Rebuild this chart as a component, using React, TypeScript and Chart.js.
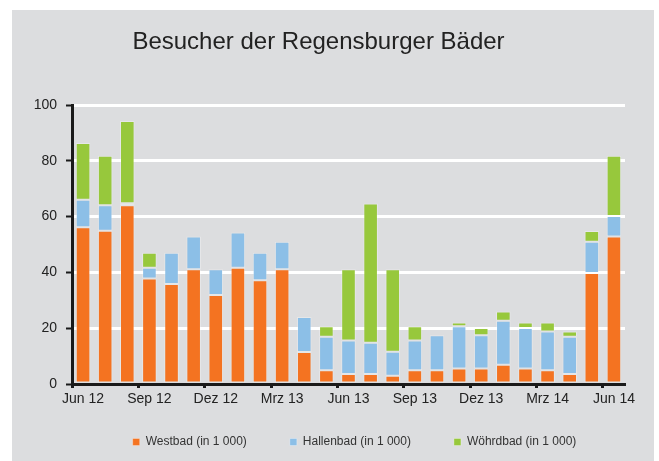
import React, { useEffect, useRef } from "react";
import { Chart, registerables } from "chart.js";

Chart.register(...registerables);

const categories = [
  "Jun 12", "Jul 12", "Aug 12", "Sep 12", "Okt 12", "Nov 12", "Dez 12",
  "Jan 13", "Feb 13", "Mrz 13", "Apr 13", "Mai 13", "Jun 13", "Jul 13",
  "Aug 13", "Sep 13", "Okt 13", "Nov 13", "Dez 13", "Jan 14", "Feb 14",
  "Mrz 14", "Apr 14", "Mai 14", "Jun 14",
];

const westbad = [
  56.2, 54.9, 64.1, 37.8, 35.8, 41.1, 31.9, 41.7, 37.2, 41.1, 11.5, 4.9, 3.6,
  3.6, 3.0, 4.9, 4.9, 5.6, 5.6, 6.9, 5.6, 4.9, 3.6, 39.8, 52.9,
];
const hallenbad = [
  9.8, 9.2, 0.7, 3.9, 11.2, 11.8, 9.2, 12.6, 9.8, 9.9, 12.5, 12.0, 12.0,
  11.2, 8.6, 10.7, 12.6, 15.1, 11.9, 15.8, 14.5, 13.9, 13.3, 11.2, 7.3,
];
const woehrdbad = [
  20.4, 17.7, 29.5, 5.3, 0, 0, 0, 0, 0, 0, 0, 3.8, 25.5,
  49.9, 29.5, 5.1, 0, 1.3, 2.6, 3.3, 1.9, 3.2, 1.9, 3.8, 21.6,
];

const seriesNames = ["Westbad (in 1 000)", "Hallenbad (in 1 000)", "Wöhrdbad (in 1 000)"];
const yTicks = [0, 20, 40, 60, 80, 100];

const shiftLegend = {
  id: "shiftLegend",
  afterLayout(chart: any) {
    const l = chart.legend;
    if (l) {
      l.left += 36;
      l.right += 36;
      l.top -= 21;
      l.height = 66;
      l.bottom = l.top + 66;
    }
  },
};

export default function App() {
  const ref = useRef<HTMLCanvasElement | null>(null);

  useEffect(() => {
    if (!ref.current) return;
    Chart.defaults.font.family = "'Liberation Sans', Arial, sans-serif";
    const mk = (label: string, data: number[], color: string) => ({
      label,
      data: data.map((v) => (v ? v : null)),
      backgroundColor: color,
      borderColor: "rgba(255,255,255,0.3)",
      borderWidth: 1,
      borderSkipped: false as any,
      categoryPercentage: 1,
      barPercentage: 0.66,
    });
    const chart = new Chart(ref.current, {
      type: "bar",
      data: {
        labels: categories,
        datasets: [
          mk(seriesNames[0], westbad, "#F47321"),
          mk(seriesNames[1], hallenbad, "#8CBFE7"),
          mk(seriesNames[2], woehrdbad, "#97C83C"),
        ],
      },
      plugins: [shiftLegend],
      options: {
        responsive: false,
        animation: false,
        devicePixelRatio: 1,
        layout: { padding: { left: 12, right: 34, top: 0, bottom: 3 } },
        plugins: {
          title: {
            display: true,
            text: "Besucher der Regensburger Bäder",
            color: "#222",
            font: { size: 24, weight: "normal" },
            padding: { top: 27.6, bottom: 48.6 },
          },
          legend: {
            position: "bottom",
            maxHeight: 44,
            labels: {
              boxWidth: 7,
              boxHeight: 7,
              padding: 43,
              color: "#333",
              font: { size: 12 },
            },
          },
          tooltip: { enabled: false },
        },
        scales: {
          x: {
            stacked: true,
            offset: true,
            afterFit: (s: any) => {
              s.height = 30;
            },
            grid: {
              offset: true,
              drawOnChartArea: false,
              tickLength: 4,
              tickWidth: 3,
              tickColor: (ctx: any) =>
                ctx.index !== undefined && ctx.index % 3 === 0 ? "#1a1a1a" : "rgba(0,0,0,0)",
            },
            border: { color: "#1a1a1a", width: 3 },
            ticks: {
              autoSkip: false,
              maxRotation: 0,
              minRotation: 0,
              padding: 3,
              color: "#222",
              font: { size: 14 },
              callback: (_v: any, i: number) => (i % 3 === 0 ? categories[i] : ""),
            },
          },
          y: {
            stacked: true,
            min: yTicks[0],
            max: yTicks[yTicks.length - 1],
            afterFit: (s: any) => {
              s.width = 60;
            },
            afterBuildTicks: (s: any) => {
              s.ticks = yTicks.map((v) => ({ value: v }));
            },
            grid: {
              color: (ctx: any) =>
                ctx.tick && ctx.tick.value === 0 ? "rgba(0,0,0,0)" : "#ffffff",
              lineWidth: 3,
              tickLength: 6,
              tickWidth: 2,
              tickColor: "#1a1a1a",
            },
            border: { color: "#1a1a1a", width: 3 },
            ticks: {
              padding: 9,
              color: "#222",
              font: { size: 14 },
            },
          },
        },
      },
    });
    return () => chart.destroy();
  }, []);

  return (
    <div
      style={{
        position: "fixed",
        left: 0,
        top: 0,
        width: 659,
        height: 461,
        background: "#ffffff",
        overflow: "hidden",
      }}
    >
      <div
        style={{
          position: "absolute",
          left: 12,
          top: 10,
          width: 642,
          height: 451,
          background: "#DCDDDF",
        }}
      />
      <canvas
        ref={ref}
        width={659}
        height={461}
        style={{ position: "absolute", left: 0, top: 0, width: 659, height: 461 }}
      />
    </div>
  );
}
